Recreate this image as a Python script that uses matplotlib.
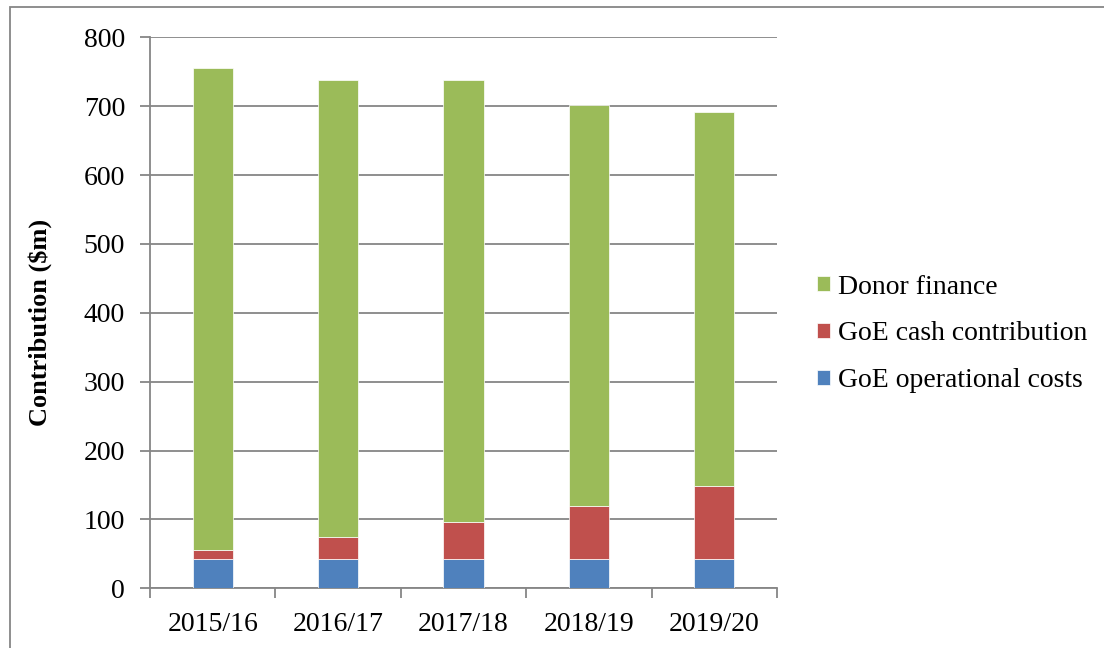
import matplotlib
matplotlib.use("Agg")
import matplotlib.pyplot as plt
from matplotlib.patches import Rectangle

categories = ["2015/16", "2016/17", "2017/18", "2018/19", "2019/20"]
goe_operational = [42, 42, 42, 42, 42]
goe_cash = [14, 32, 54, 77, 106]
donor_finance = [700, 664, 642, 583, 544]

plt.rcParams['font.family'] = ['Liberation Serif', 'DejaVu Serif']

fig = plt.figure(figsize=(11.04, 6.48), dpi=100)
ax = fig.add_axes([150/1104, 1-588.3/648, 627/1104, 551/648])

grid_c = "#868686"
FS = 20
x = list(range(len(categories)))
w = 0.32
b1 = ax.bar(x, goe_operational, w, color="#4F81BD", edgecolor="white", linewidth=0.5, zorder=3,
            label="GoE operational costs")
bottom2 = goe_operational
b2 = ax.bar(x, goe_cash, w, bottom=bottom2, color="#C0504D", edgecolor="white", linewidth=0.5, zorder=3,
            label="GoE cash contribution")
bottom3 = [a + b for a, b in zip(goe_operational, goe_cash)]
b3 = ax.bar(x, donor_finance, w, bottom=bottom3, color="#9BBB59", edgecolor="white", linewidth=0.5, zorder=3,
            label="Donor finance")

ax.set_xlim(-0.5, len(categories) - 0.5)
ax.set_ylim(0, 800)
ax.set_yticks(range(0, 801, 100))
ax.yaxis.grid(True, color=grid_c, linewidth=1.3, zorder=0)
ax.set_axisbelow(True)

ax.set_xticks(x)
ax.set_xticklabels(categories, fontsize=FS)
ax.tick_params(axis='x', length=0, pad=17)
ax.set_xticks([i - 0.5 for i in range(len(categories) + 1)], minor=True)
ax.tick_params(axis='x', which='minor', length=7, color=grid_c, width=1.3)
ax.tick_params(axis='y', labelsize=FS, length=7, color=grid_c, width=1.3, pad=11)

for s in ['top', 'right']:
    ax.spines[s].set_visible(False)
for s in ['left', 'bottom']:
    ax.spines[s].set_color(grid_c)
    ax.spines[s].set_linewidth(1.3)

ax.set_ylabel("Contribution ($m)", fontsize=19, fontweight='bold')
ax.yaxis.set_label_coords((52 - 150) / 627, (588.3 - 322) / 551)

handles = [b3, b2, b1]
leg = fig.legend(handles, [h.get_label() for h in handles], loc='center left',
                 bbox_to_anchor=(792/1104, 1-334/648), frameon=False, fontsize=FS,
                 handlelength=0.45, handleheight=0.45, handletextpad=0.3, labelspacing=0.78)

fig.patches.append(Rectangle((10/1104, -0.1), 1.2, 1 - 7/648 + 0.1, transform=fig.transFigure,
                             fill=False, edgecolor=grid_c, linewidth=1.3))

fig.savefig("out.png", dpi=100)
